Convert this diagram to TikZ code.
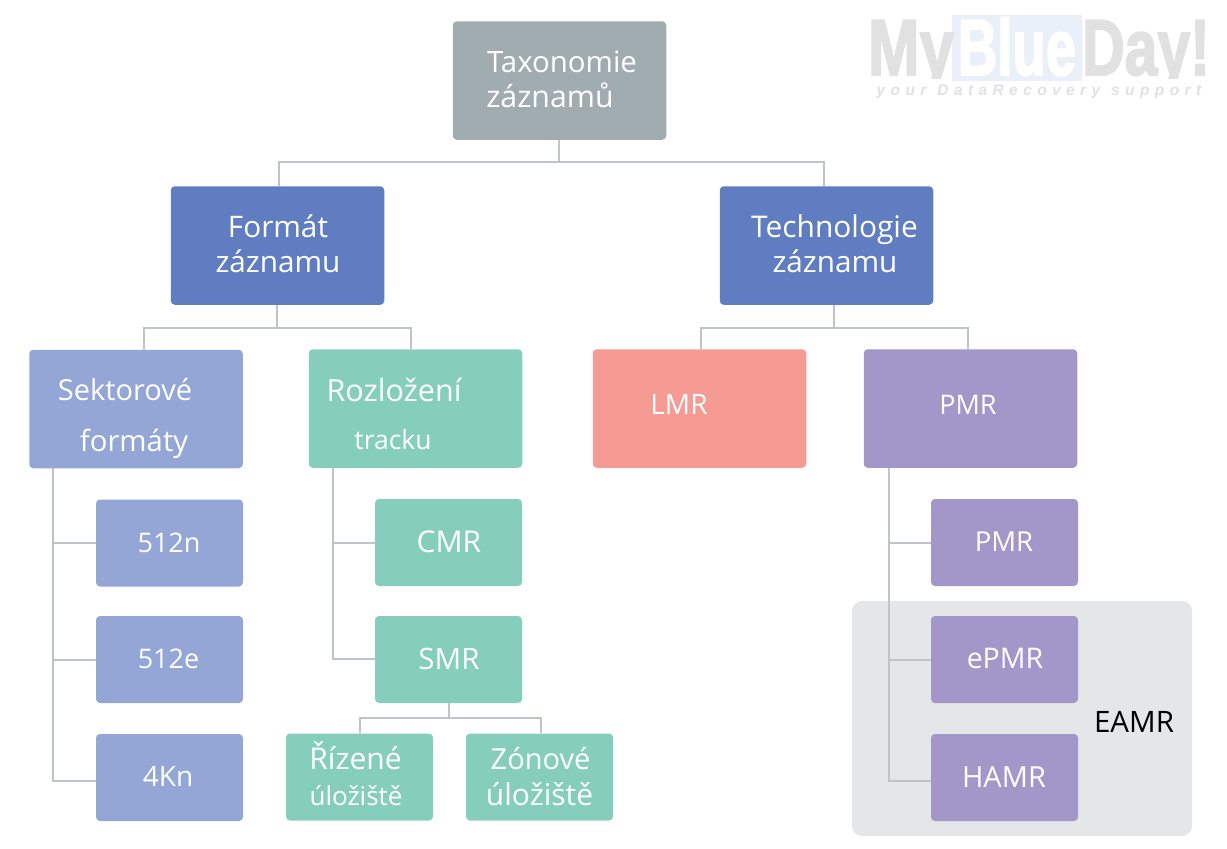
\documentclass[tikz,border=0pt]{standalone}
\usepackage{fontspec}
\setmainfont{Open Sans}
\newfontfamily\wmfont[FakeBold=2.5]{Liberation Sans}
\newfontfamily\wmsub{Liberation Sans}
\definecolor{cgray}{HTML}{A1ACB1}
\definecolor{cdark}{HTML}{5F7DC0}
\definecolor{clight}{HTML}{93A6D6}
\definecolor{cteal}{HTML}{86CEBC}
\definecolor{csalmon}{HTML}{F69A94}
\definecolor{cpurple}{HTML}{A396C8}
\definecolor{cline}{HTML}{BFC4C9}
\definecolor{cband}{HTML}{E5E6E8}
\definecolor{cwm}{HTML}{E1E1E1}
\definecolor{cwmb}{HTML}{EAF0FA}
\newcommand{\spacedtag}{y\kern5.4pt o\kern5.4pt u\kern5.4pt r\kern11pt D\kern5.4pt a\kern5.4pt t\kern5.4pt a\kern5.4pt R\kern5.4pt e\kern5.4pt c\kern5.4pt o\kern5.4pt v\kern5.4pt e\kern5.4pt r\kern5.4pt y\kern11pt s\kern5.4pt u\kern5.4pt p\kern5.4pt p\kern5.4pt o\kern5.4pt r\kern5.4pt t}
\tikzset{
  boxbase/.style={rectangle,rounded corners=4pt,inner sep=0pt,draw=none},
  big/.style={boxbase,minimum width=213.5pt,minimum height=118.5pt},
  small/.style={boxbase,minimum width=147pt,minimum height=87pt},
  fs/.style={font=\fontsize{#1}{#1}\selectfont},
  lbl/.style={text=white,inner sep=0pt,anchor=center,fs=#1},
  lbl/.default=28,
  wmark/.style={inner sep=0pt,anchor=base,yscale=1.28},
  conn/.style={draw=cline,line width=2pt},
}
\begin{document}
\begin{tikzpicture}[x=1pt,y=-1pt]
\useasboundingbox (0,0) rectangle (1227,849);
% watermark
\fill[cwmb] (952,15) rectangle (1082,81);
\begin{scope}
\clip (860,10) rectangle (1227,78);
\node[wmark,text=cwm,xscale=1.0] (wm1) at (911,75) {\wmfont\bfseries\fontsize{62}{62}\selectfont My};
\node[wmark,text=white,xscale=.88] (wm2) at (1017,75) {\wmfont\bfseries\fontsize{62}{62}\selectfont Blue};
\node[wmark,text=cwm,xscale=.95] (wm3) at (1146,75) {\wmfont\bfseries\fontsize{62}{62}\selectfont Day!};
\end{scope}
\node[inner sep=0pt,text=cwm,anchor=center] (wm4) at (1039,91.5) {\wmsub\bfseries\itshape\fontsize{15.5}{15.5}\selectfont\spacedtag};
% EAMR band
\node[boxbase,rounded corners=10pt,fill=cband,minimum width=340pt,minimum height=235pt] (band) at (1022,718.5) {};
\node[inner sep=0pt,text=black,fs=29.5] (eamr) at (1134,722) {EAMR};
% boxes
\node[big,fill=cgray] (root) at (559.5,80.5) {};
\node[big,fill=cdark] (fmt) at (277.5,245.5) {};
\node[big,fill=cdark] (tech) at (826.5,245.5) {};
\node[big,fill=clight] (sek) at (136,409) {};
\node[big,fill=cteal] (roz) at (415.5,408.5) {};
\node[big,fill=csalmon] (lmr) at (699.5,408.5) {};
\node[big,fill=cpurple] (pmr) at (970.5,408.5) {};
\node[small,fill=clight] (n512n) at (169.5,543) {};
\node[small,fill=clight] (n512e) at (169.5,659.5) {};
\node[small,fill=clight] (n4kn) at (169.5,777.5) {};
\node[small,fill=cteal] (cmr) at (448.5,542.5) {};
\node[small,fill=cteal] (smr) at (448.5,659.5) {};
\node[small,fill=cteal] (riz) at (359.5,777) {};
\node[small,fill=cteal] (zon) at (539.5,777) {};
\node[small,fill=cpurple] (pmrb) at (1004.5,542.5) {};
\node[small,fill=cpurple] (epmr) at (1004.5,659.5) {};
\node[small,fill=cpurple] (hamr) at (1004.5,777.5) {};
% connectors
\coordinate (b1) at (559,162);
\draw[conn] (root.south -| b1) -- (b1);
\draw[conn] ([xshift=1.5pt]fmt.north) |- (b1) -| ([xshift=-2.5pt]tech.north);
\coordinate (b2) at (277,328);
\draw[conn] (fmt.south -| b2) -- (b2);
\draw[conn] ([xshift=7.5pt]sek.north) |- (b2) -| ([xshift=-4.5pt]roz.north);
\coordinate (b3) at (834,328);
\draw[conn] (tech.south -| b3) -- (b3);
\draw[conn] ([xshift=1.5pt]lmr.north) |- (b3) -| ([xshift=-2.5pt]pmr.north);
\coordinate (s1) at (53,781);
\draw[conn] (sek.south -| s1) -- (s1) -- (s1 -| n4kn.west);
\draw[conn] (n512n.west) -- (n512n.west -| s1);
\draw[conn] (n512e.west) -- (n512e.west -| s1);
\coordinate (s2) at (333,659);
\draw[conn] (roz.south -| s2) -- (s2) -- (s2 -| smr.west);
\draw[conn] (cmr.west) -- (cmr.west -| s2);
\coordinate (s3) at (889,781);
\draw[conn] (pmr.south -| s3) -- (s3) -- (s3 -| hamr.west);
\draw[conn] (pmrb.west) -- (pmrb.west -| s3);
\draw[conn] (epmr.west) -- (epmr.west -| s3);
\coordinate (b4) at (449,718);
\draw[conn] (smr.south -| b4) -- (b4);
\draw[conn] (riz.north) |- (b4) -| ([xshift=1.5pt]zon.north);
% labels
\node[lbl=29.4] (t1) at (562,62) {Taxonomie};
\node[lbl=30.3] (t2) at (550,95) {záznamů};
\node[lbl=29.7] (t3) at (278,226) {Formát};
\node[lbl=29.7] (t4) at (278,261) {záznamu};
\node[lbl=29.9] (t5) at (834.5,230) {Technologie};
\node[lbl=29.7] (t6) at (835,261) {záznamu};
\node[lbl=29] (t7) at (125,390) {Sektorové};
\node[lbl=29.3] (t8) at (134,444) {formáty};
\node[lbl=30.5] (t9) at (394,390) {Rozložení};
\node[lbl=26.5] (t10) at (393,440) {tracku};
\node[lbl=28] (t11) at (679,404) {LMR};
\node[lbl=27] (t12) at (968,405) {PMR};
\node[lbl=27] (t13) at (169,543) {512n};
\node[lbl=27] (t14) at (168.5,659) {512e};
\node[lbl=28] (t15) at (168,776) {4Kn};
\node[lbl=30] (t16) at (449,542) {CMR};
\node[lbl=29.5] (t17) at (449,659) {SMR};
\node[lbl=27.5] (t18) at (1004,542) {PMR};
\node[lbl=28.5] (t19) at (1005,658) {ePMR};
\node[lbl=29] (t20) at (1004,777) {HAMR};
\node[lbl=30] (t21) at (355.5,756) {Řízené};
\node[lbl=26] (t22) at (356,796) {úložiště};
\node[lbl=29] (t23) at (540.5,759) {Zónové};
\node[lbl=30] (t24) at (539.5,794) {úložiště};
\end{tikzpicture}
\end{document}
